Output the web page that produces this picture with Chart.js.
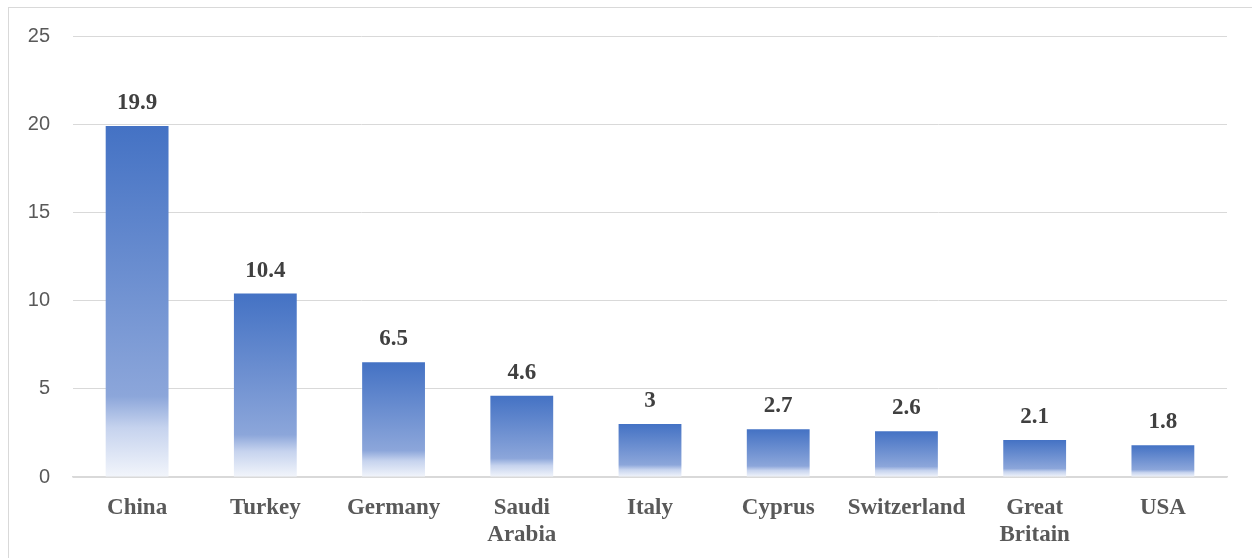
<!DOCTYPE html>
<html>
<head>
<meta charset="utf-8">
<script src="https://cdn.jsdelivr.net/npm/chart.js@4/dist/chart.umd.min.js"></script>
<style>
  html, body { margin: 0; padding: 0; background: #fff; }
  #wrap { position: relative; width: 1252px; height: 558px; overflow: hidden; }
  #chart { position: absolute; left: 0; top: 0; }
  #frame { position: absolute; left: 8px; top: 7px; width: 1260px; height: 570px; border: 1px solid #d9d9d9; pointer-events: none; }
</style>
</head>
<body>
<div id="wrap">
  <canvas id="chart" width="1252" height="558"></canvas>
  <div id="frame"></div>
</div>
<script>
// datos del gráfico
const countries = ['China', 'Turkey', 'Germany', ['Saudi', 'Arabia'], 'Italy', 'Cyprus', 'Switzerland', ['Great', 'Britain'], 'USA'];
const shares = [19.9, 10.4, 6.5, 4.6, 3, 2.7, 2.6, 2.1, 1.8];
const yTicks = [0, 5, 10, 15, 20, 25];

// degradado de cada barra: azul arriba, casi blanco abajo
function barGradient(ctx) {
  const chart = ctx.chart;
  if (!chart.chartArea || ctx.parsed === undefined) return '#4472C4';
  const y = chart.scales.y;
  const top = y.getPixelForValue(ctx.parsed.y);
  const bottom = y.getPixelForValue(0);
  const g = chart.ctx.createLinearGradient(0, top, 0, bottom);
  g.addColorStop(0, '#4472C4');
  g.addColorStop(0.77, '#8CA6DA');
  g.addColorStop(0.86, '#C6D3EE');
  g.addColorStop(1, '#F2F5FB');
  return g;
}

// etiquetas de valor encima de las barras
const valueLabels = {
  id: 'valueLabels',
  afterDatasetsDraw(chart) {
    const c = chart.ctx;
    const meta = chart.getDatasetMeta(0);
    c.save();
    c.font = 'bold 23px "Liberation Serif", "Times New Roman", serif';
    c.fillStyle = '#404040';
    c.textAlign = 'center';
    c.textBaseline = 'alphabetic';
    meta.data.forEach((bar, i) => {
      c.fillText(String(shares[i]), bar.x, bar.y - 17);
    });
    c.restore();
  }
};

new Chart(document.getElementById('chart'), {
  type: 'bar',
  data: {
    labels: countries,
    datasets: [{
      data: shares,
      backgroundColor: barGradient,
      borderWidth: 0,
      categoryPercentage: 1,
      barPercentage: 0.49
    }]
  },
  options: {
    responsive: false,
    animation: false,
    layout: { padding: { top: 36, right: 25, left: 0, bottom: 0 } },
    plugins: {
      legend: { display: false },
      tooltip: { enabled: false },
      title: { display: false }
    },
    scales: {
      x: {
        grid: { display: false },
        border: { display: true, color: '#d9d9d9', width: 1.5 },
        ticks: {
          color: '#595959',
          padding: 10,
          maxRotation: 0,
          autoSkip: false,
          font: { family: '"Liberation Serif", "Times New Roman", serif', size: 23, weight: 'bold', lineHeight: 1.17 }
        },
        afterFit(scale) { scale.height = 81; }
      },
      y: {
        min: 0,
        max: 25,
        afterBuildTicks(scale) { scale.ticks = yTicks.map(v => ({ value: v })); },
        grid: { color: '#d9d9d9', lineWidth: 1, drawTicks: false },
        border: { display: false },
        ticks: {
          color: '#595959',
          padding: 23,
          font: { family: '"Liberation Sans", Arial, sans-serif', size: 20 }
        },
        afterFit(scale) { scale.width = 73; }
      }
    }
  },
  plugins: [valueLabels]
});
</script>
</body>
</html>
